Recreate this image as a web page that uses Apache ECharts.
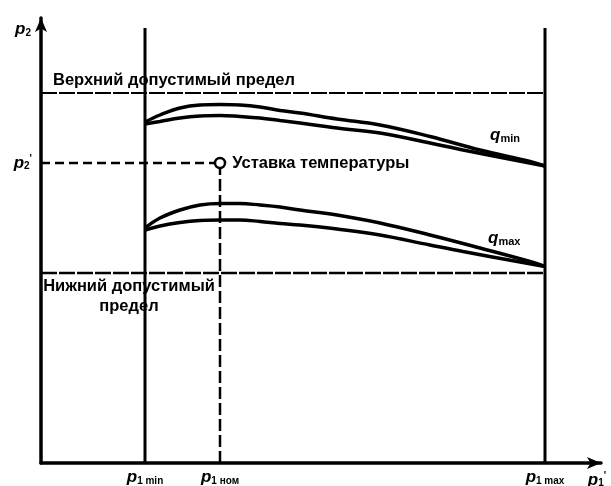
<!DOCTYPE html>
<html>
<head>
<meta charset="utf-8">
<script src="https://cdn.jsdelivr.net/npm/echarts@6/dist/echarts.min.js"></script>
<style>html,body{margin:0;padding:0;background:#fff}#c{width:611px;height:486px}</style>
</head>
<body>
<div id="c"></div>
<script>
// ---- data (arbitrary units) ----
const xMax = 112;
const yMax = 89;
const p1Ticks = [20.8, 35.8, 100.8];          // p1 min, p1 ном, p1 max
const p1TickLabels = ['1 min', '1 ном', '1 max'];
const p2Setpoint = 60;                         // p2'
const upperLimit = 74;
const lowerLimit = 38;
const verticalTop = 87;

const qMinUpper = [[20.8,68.2],[23.8,69.6],[27.8,71.0],[31.8,71.6],[35.8,71.7],[39.8,71.6],[43.8,71.2],[47.8,70.5],[51.8,70.0],[59.2,68.8],[67.8,67.6],[77.8,65.3],[87.8,62.6],[97.8,60.3],[100.8,59.4]];
const qMinLower = [[20.8,67.8],[23.8,68.3],[27.8,69.0],[31.8,69.4],[35.8,69.5],[39.8,69.3],[43.8,69.0],[47.8,68.5],[51.8,68.0],[59.2,67.0],[67.8,66.0],[77.8,64.0],[84.4,62.6],[100.8,59.4]];
const qMaxUpper = [[20.8,47.0],[23.8,49.0],[27.8,50.6],[31.8,51.6],[35.8,51.9],[39.8,51.9],[43.8,51.6],[47.8,51.2],[51.8,50.6],[59.2,49.6],[67.8,48.0],[77.8,45.6],[87.8,43.0],[97.8,40.3],[100.8,39.3]];
const qMaxLower = [[20.8,46.6],[23.8,47.4],[27.8,48.1],[31.8,48.5],[35.8,48.6],[39.8,48.6],[43.8,48.3],[47.8,47.9],[51.8,47.6],[59.2,46.8],[67.8,45.6],[77.8,43.6],[84.4,42.3],[100.8,39.3]];

const upperText = 'Верхний допустимый предел';
const lowerText = 'Нижний допустимый\nпредел';
const setpointText = 'Уставка температуры';
const qLabels = ['min', 'max'];
const annotationAnchors = { upper: [26.6, upperLimit], lower: [17.6, lowerLimit], qmin: [89.8, 65.6], qmax: [89.4, 45] };

// ---- chart ----
const FONT = 'Liberation Sans';
const black = '#000';
const txt = { color: black, fontFamily: FONT, fontWeight: 'bold', fontSize: 16.5 };
const pRich = {
  p: { fontFamily: FONT, fontStyle: 'italic', fontWeight: 'bold', fontSize: 17, color: black },
  s: { fontFamily: FONT, fontWeight: 'bold', fontSize: 10, color: black, padding: [7, 0, 0, 0] },
  sup: { fontFamily: FONT, fontWeight: 'bold', fontSize: 10, color: black, padding: [0, 0, 8, 0] }
};

function seg(data, width, type) {
  return { type: 'line', data: data, symbol: 'none', silent: true,
    lineStyle: { color: black, width: width, type: type || 'solid' }, z: 3 };
}
function curve(data) {
  return { type: 'line', data: data, symbol: 'none', smooth: 0.4, silent: true,
    lineStyle: { color: black, width: 3.5 }, z: 4 };
}
function note(pos, text, position, extra) {
  return { type: 'scatter', symbolSize: 0, silent: true, z: 5, itemStyle: { opacity: 1 },
    data: [{ value: pos, label: Object.assign({ show: true, formatter: text, position: position }, txt, extra || {}) }] };
}

const chart = echarts.init(document.getElementById('c'));
chart.setOption({
  animation: false,
  backgroundColor: '#fff',
  grid: { left: 41, right: 10, top: 18, bottom: 23, containLabel: false, outerBoundsMode: 'none' },
  xAxis: {
    type: 'value', min: 0, max: xMax,
    splitLine: { show: false },
    axisTick: { show: false },
    axisLine: { onZero: false, symbol: ['none', 'arrow'], symbolSize: [9, 14], lineStyle: { color: black, width: 3.5 } },
    axisLabel: { customValues: p1Ticks, margin: 6,
      formatter: v => { const i = p1Ticks.indexOf(v); return i < 0 ? '' : '{p|p}{s|' + p1TickLabels[i] + '}'; },
      rich: pRich },
    name: '{p|p}{s|1}{sup|\'}', nameLocation: 'end', nameGap: -4,
    nameTextStyle: { rich: pRich, verticalAlign: 'top', align: 'center', padding: [8, 0, 0, 0] }
  },
  yAxis: {
    type: 'value', min: 0, max: yMax,
    splitLine: { show: false },
    axisTick: { show: false },
    axisLine: { onZero: false, symbol: ['none', 'arrow'], symbolSize: [9, 14], lineStyle: { color: black, width: 3.5 } },
    axisLabel: { customValues: [p2Setpoint], margin: 9,
      formatter: () => '{p|p}{s|2}{sup|\'}', rich: pRich },
    name: '{p|p}{s|2}', nameLocation: 'end', nameGap: -20,
    nameTextStyle: { rich: pRich, align: 'right', padding: [0, 10, 0, 0] }
  },
  series: [
    seg([[0, upperLimit], [p1Ticks[2], upperLimit]], 2, [16, 2]),
    seg([[0, lowerLimit], [p1Ticks[2], lowerLimit]], 2.5, [16, 2]),
    seg([[0, p2Setpoint], [p1Ticks[1], p2Setpoint]], 2.5, [9, 5]),
    seg([[p1Ticks[1], p2Setpoint], [p1Ticks[1], 0]], 2.5, [12, 4]),
    seg([[p1Ticks[0], 0], [p1Ticks[0], verticalTop]], 3),
    seg([[p1Ticks[2], 0], [p1Ticks[2], verticalTop]], 3),
    curve(qMinUpper), curve(qMinLower), curve(qMaxUpper), curve(qMaxLower),
    { type: 'scatter', silent: true, z: 6, symbol: 'circle', symbolSize: 10,
      itemStyle: { color: '#fff', borderColor: black, borderWidth: 2.5, opacity: 1 },
      data: [{ value: [p1Ticks[1], p2Setpoint],
        label: Object.assign({ show: true, position: 'right', distance: 6, formatter: setpointText }, txt) }] },
    note(annotationAnchors.upper, upperText, 'top', { distance: 4 }),
    note(annotationAnchors.lower, lowerText, 'bottom', { distance: 3, lineHeight: 20, align: 'center' }),
    note(annotationAnchors.qmin, '{q|q}{s|' + qLabels[0] + '}', 'right', { distance: 0, rich: { q: pRich.p, s: Object.assign({}, pRich.s, { fontSize: 11 }) } }),
    note(annotationAnchors.qmax, '{q|q}{s|' + qLabels[1] + '}', 'right', { distance: 0, rich: { q: pRich.p, s: Object.assign({}, pRich.s, { fontSize: 11 }) } })
  ]
});
</script>
</body>
</html>
